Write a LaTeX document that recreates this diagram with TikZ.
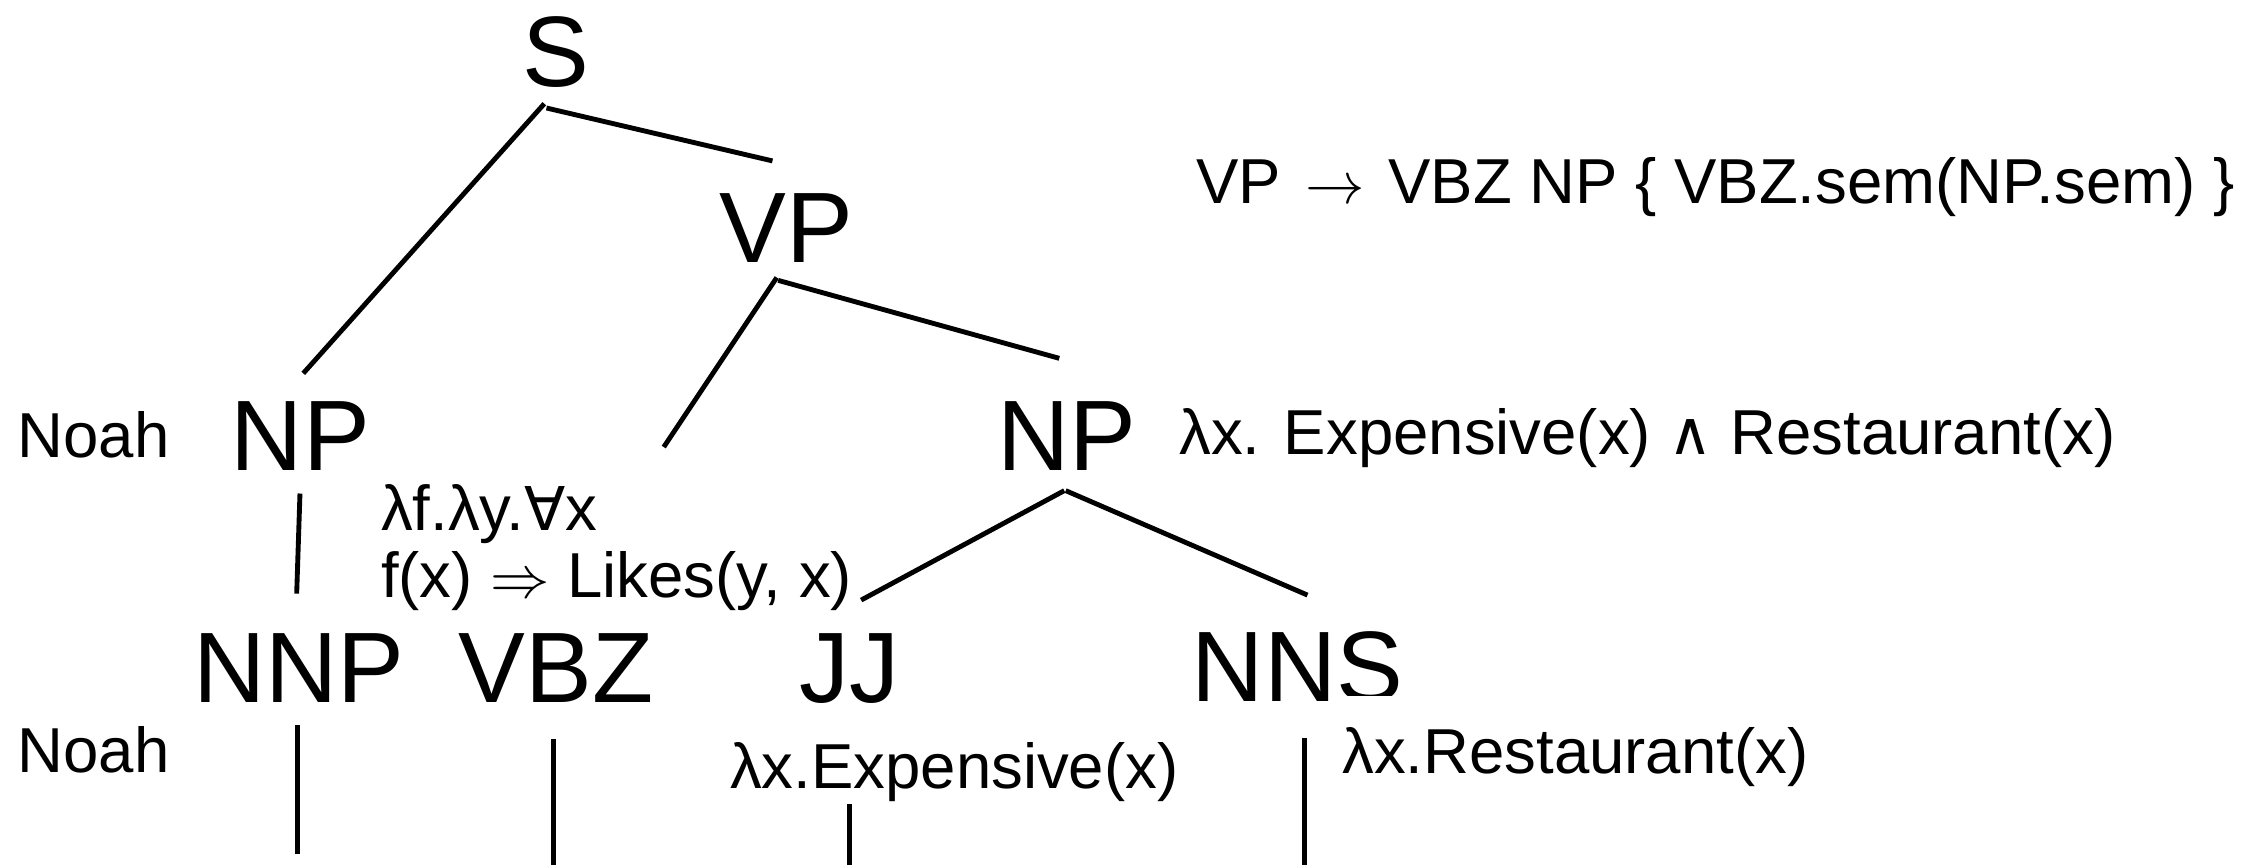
\documentclass[tikz,border=0pt]{standalone}
\usepackage{fontspec}
\setmainfont{Liberation Sans}
\newfontfamily\symf{DejaVu Sans}[Scale=0.95]
\begin{document}
\begin{tikzpicture}[x=0.5pt,y=-0.5pt,
  big/.style={font=\fontsize{35pt}{42pt}\selectfont, inner sep=0pt, anchor=base},
  small/.style={font=\fontsize{22.2pt}{26pt}\selectfont, inner sep=0pt, anchor=base west},
  edge/.style={line width=1.7pt}]
\useasboundingbox (0,0) rectangle (1568,604);
% tree labels
\node[big] (S) at (388.7,60.5) {S};
\node[big] (VP) at (550,183.5) {VP};
\node[big] (NPl) at (210,329) {NP};
\node[big] (NPr) at (746,329) {NP};
\node[big] (NNP) at (209,491) {NNP};
\node[big] (VBZ) at (388.7,491) {VBZ};
\node[big] (JJ) at (594,491) {JJ};
\node[big] (NNS) at (907,490.5) {NNS};
% semantic labels
\node[small] (rule) at (836,142.6) {VP \hspace{0.1em}$\rightarrow$\hspace{0.1em} VBZ NP \{ VBZ.sem(NP.sem) \}};
\node[small] (noah1) at (12,320) {Noah};
\node[small] (noah2) at (12,540) {Noah};
\node[small] (npsem) at (824,318) {λx. Expensive(x) {\symf\char"2227} Restaurant(x)};
\node[small, text depth=2pt] (vbzsem1) at (266,371) {λf.λy.{\symf\char"2200}x};
\node[small, text height=14pt] (vbzsem2) at (266,418) {f(x) $\Rightarrow$ Likes(y, x)};
\node[small] (jjsem) at (510,551) {λx.Expensive(x)};
\node[small, fill=white, text height=27.25pt, text depth=8pt] (nnssem) at (938,541) {λx.Restaurant(x)};
% connector end points
\coordinate (s1) at (380.5,72.5);
\coordinate (s2) at (382,75.5);
\coordinate (npl1) at (212,261);
\coordinate (vp0) at (540,112.5);
\coordinate (vp1) at (543,194);
\coordinate (vp2) at (544,196);
\coordinate (vbz0) at (464,312.5);
\coordinate (npr0) at (740.5,250.5);
\coordinate (npl2) at (209.7,345);
\coordinate (nnp0) at (207.4,415);
\coordinate (npr1) at (744,343);
\coordinate (npr2) at (745,343);
\coordinate (jj0) at (602,419.5);
\coordinate (nns0) at (914,416);
\coordinate (nnp1) at (208,507);
\coordinate (nnp2) at (208,597);
\coordinate (vbz1) at (387,516.5);
\coordinate (vbz2) at (387,610);
\coordinate (jj1) at (594,562);
\coordinate (jj2) at (594,610);
\coordinate (nns1) at (912,516);
\coordinate (nns2) at (912,610);
% connectors
\draw[edge] (s1) -- (npl1);
\draw[edge] (s2) -- (vp0);
\draw[edge] (vp1) -- (vbz0);
\draw[edge] (vp2) -- (npr0);
\draw[edge] (npl2) -- (nnp0);
\draw[edge] (npr1) -- (jj0);
\draw[edge] (npr2) -- (nns0);
\draw[edge] (nnp1) -- (nnp2);
\draw[edge] (vbz1) -- (vbz2);
\draw[edge] (jj1) -- (jj2);
\draw[edge] (nns1) -- (nns2);
\end{tikzpicture}
\end{document}
